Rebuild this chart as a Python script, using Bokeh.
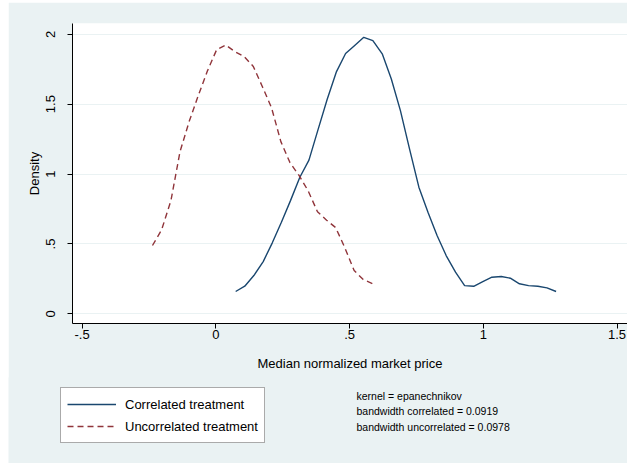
from bokeh.plotting import figure
from bokeh.layouts import column
from bokeh.models import FixedTicker, Label, Range1d, Legend, LegendItem
from bokeh.embed import file_html
from bokeh.resources import INLINE

# Correlated treatment kernel density
corr_x = [0.074, 0.108, 0.142, 0.177, 0.211, 0.245, 0.279, 0.314, 0.348, 0.382,
          0.416, 0.451, 0.485, 0.519, 0.553, 0.587, 0.622, 0.656, 0.690, 0.724,
          0.759, 0.793, 0.827, 0.861, 0.896, 0.930, 0.964, 0.998, 1.032, 1.067,
          1.101, 1.135, 1.169, 1.204, 1.238, 1.272]
corr_y = [0.160, 0.198, 0.274, 0.374, 0.508, 0.655, 0.810, 0.977, 1.100, 1.318,
          1.533, 1.733, 1.862, 1.920, 1.978, 1.955, 1.860, 1.680, 1.454, 1.180,
          0.906, 0.727, 0.560, 0.417, 0.298, 0.202, 0.197, 0.231, 0.262, 0.267,
          0.255, 0.215, 0.202, 0.197, 0.186, 0.160]

# Uncorrelated treatment kernel density
unc_x = [-0.237, -0.203, -0.168, -0.134, -0.100, -0.066, -0.031, 0.003, 0.037,
         0.071, 0.106, 0.140, 0.174, 0.208, 0.243, 0.277, 0.311, 0.345, 0.380,
         0.414, 0.448, 0.482, 0.517, 0.551, 0.585]
unc_y = [0.489, 0.600, 0.810, 1.160, 1.375, 1.560, 1.740, 1.890, 1.923, 1.876,
         1.840, 1.770, 1.625, 1.475, 1.232, 1.082, 0.990, 0.880, 0.730, 0.670,
         0.617, 0.474, 0.310, 0.245, 0.217]

x_ticks = [-0.5, 0, 0.5, 1, 1.5]
x_tick_labels = ["-.5", "0", ".5", "1", "1.5"]
y_ticks = [0, 0.5, 1, 1.5, 2]
y_tick_labels = ["0", ".5", "1", "1.5", "2"]

series_names = ["Correlated treatment", "Uncorrelated treatment"]
notes = ["kernel = epanechnikov",
         "bandwidth correlated = 0.0919",
         "bandwidth uncorrelated = 0.0978"]

FONT = "Liberation Sans"
BG = "#EAF2F3"
NAVY = "#1A476F"
MAROON = "#90353B"
DASH = "6 4"
LW = 1.4

# ---- main chart ----
p = figure(width=619, height=376, output_backend="svg", toolbar_location=None,
           x_range=Range1d(-0.536, 1.539), y_range=Range1d(-0.069, 2.077),
           min_border_left=64, min_border_right=0, min_border_top=21,
           min_border_bottom=55)
p.margin = (2, 6, 0, 8)
p.frame_align = False
p.title.visible = False
p.border_fill_color = BG
p.background_fill_color = "white"
p.outline_line_color = None

p.line(corr_x, corr_y, line_color=NAVY, line_width=LW)
p.line(unc_x, unc_y, line_color=MAROON, line_width=LW, line_dash=DASH)

p.xaxis.ticker = FixedTicker(ticks=x_ticks)
p.xaxis.major_label_overrides = {t: l for t, l in zip(x_ticks, x_tick_labels)}
p.yaxis.ticker = FixedTicker(ticks=y_ticks)
p.yaxis.major_label_overrides = {t: l for t, l in zip(y_ticks, y_tick_labels)}
p.yaxis.major_label_orientation = "vertical"
for ax in (p.xaxis, p.yaxis):
    ax.minor_tick_line_color = None
    ax.major_tick_out = 5
    ax.major_tick_in = 0
    ax.axis_line_color = "black"
    ax.major_tick_line_color = "black"
    ax.major_label_text_font = FONT
    ax.major_label_text_font_size = "13px"
    ax.major_label_text_color = "black"
    ax.axis_label_text_font = FONT
    ax.axis_label_text_font_size = "13px"
    ax.axis_label_text_font_style = "normal"
    ax.axis_label_text_color = "black"
p.xaxis.axis_label = "Median normalized market price"
p.yaxis.axis_label = "Density"
p.xaxis.major_label_standoff = 1
p.yaxis.major_label_standoff = 12
p.xaxis.axis_label_standoff = 14
p.yaxis.axis_label_standoff = 2

p.xgrid.grid_line_color = None
p.ygrid.grid_line_color = BG
p.ygrid.grid_line_width = 1

# ---- legend / notes strip ----
p2 = figure(width=619, height=86, output_backend="svg", toolbar_location=None,
            x_range=Range1d(0, 1), y_range=Range1d(0, 1),
            x_axis_location=None, y_axis_location=None,
            min_border_left=0, min_border_right=0, min_border_top=0,
            min_border_bottom=0)
p2.margin = (-1, 6, 0, 8)
p2.frame_align = False
p2.title.visible = False
p2.border_fill_color = BG
p2.background_fill_color = BG
p2.outline_line_color = None
p2.grid.visible = False

nan = float("nan")
r1 = p2.line([nan], [nan], line_color=NAVY, line_width=LW)
r2 = p2.line([nan], [nan], line_color=MAROON, line_width=LW, line_dash=DASH)
lg = Legend(items=[LegendItem(label=series_names[0], renderers=[r1]),
                   LegendItem(label=series_names[1], renderers=[r2])],
            location=(52, 20), orientation="vertical")
lg.padding = 6
lg.margin = 0
lg.spacing = 2
lg.glyph_width = 49
lg.glyph_height = 20
lg.label_standoff = 9
lg.label_text_font = FONT
lg.label_text_font_size = "13px"
lg.label_text_color = "black"
lg.border_line_color = "#555555"
lg.border_line_width = 1
lg.background_fill_color = "white"
lg.background_fill_alpha = 1
p2.add_layout(lg, "center")

for i, t in enumerate(notes):
    p2.add_layout(Label(x=348, y=68 - 15.5 * i, x_units="screen", y_units="screen",
                        text=t, text_font=FONT, text_font_size="10.5px",
                        text_baseline="middle", text_align="left",
                        text_color="black"))

layout = column(p, p2, spacing=0)
open("out.html", "w").write(file_html(layout, INLINE))
